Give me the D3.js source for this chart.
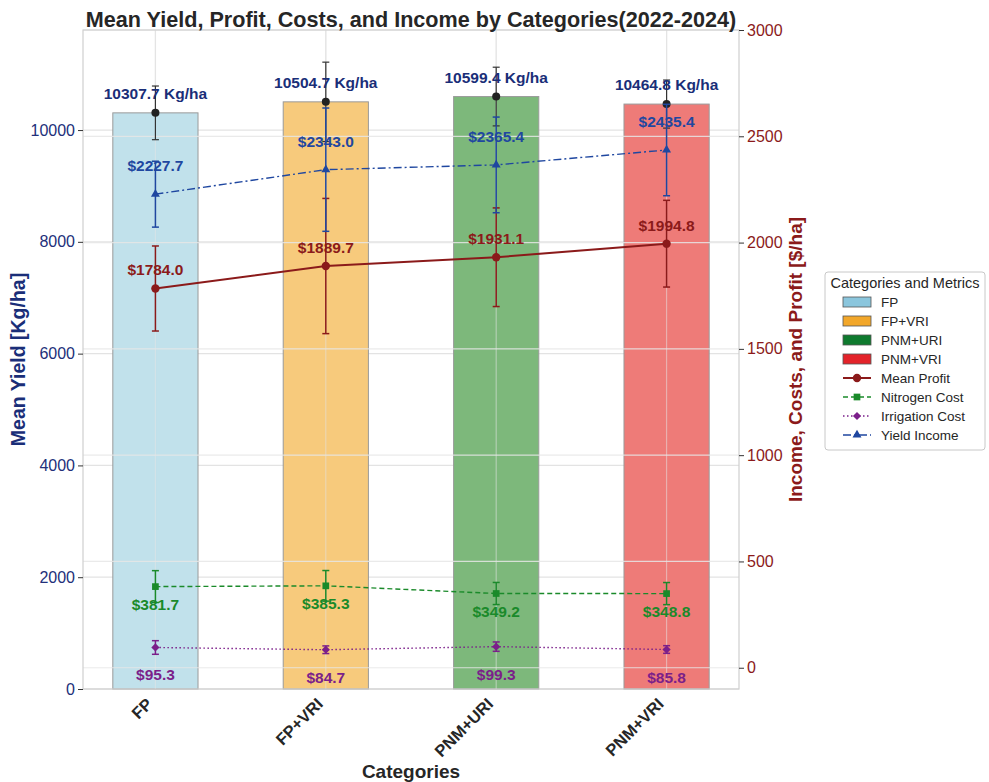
<!DOCTYPE html>
<html>
<head>
<meta charset="utf-8">
<script src="https://cdn.jsdelivr.net/npm/d3@7"></script>
<style>
  body { margin: 0; background: #fff; }
  text { font-family: "Liberation Sans", Arial, sans-serif; }
</style>
</head>
<body>
<svg id="chart"></svg>
<script>
// Dati
const categories    = ["FP", "FP+VRI", "PNM+URI", "PNM+VRI"];
const yieldMean     = [10307.7, 10504.7, 10599.4, 10464.8];
const yieldErr      = [480, 710, 525, 430];
const profit        = [1784.0, 1889.7, 1931.1, 1994.8];
const profitErr     = [200, 318, 232, 204];
const nitrogen      = [381.7, 385.3, 349.2, 348.8];
const nitrogenErr   = [75, 72, 52, 52];
const irrigation    = [95.3, 84.7, 99.3, 85.8];
const irrigationErr = [32, 18, 22, 18];
const income        = [2227.7, 2343.0, 2365.4, 2435.4];
const incomeErr     = [155, 290, 225, 215];
const leftTicks     = [0, 2000, 4000, 6000, 8000, 10000];
const rightTicks    = [0, 500, 1000, 1500, 2000, 2500, 3000];

const width = 989, height = 782;
const margin = { top: 30, right: 250, bottom: 93, left: 83 };
const x0 = margin.left, x1 = width - margin.right, y0 = margin.top, y1 = height - margin.bottom;

const barFill   = ["#c1e1eb", "#f7ca7c", "#7db87b", "#ee7b78"];
const legFill   = ["#8bc6dd", "#f2a72a", "#0e7a2e", "#e3232a"];
const cProfit = "#8b1a1a", cNitro = "#1a8a2a", cIrr = "#7b1f8a", cInc = "#1f47a0";
const cYieldTxt = "#1a2e78";

const svg = d3.select("#chart").attr("width", width).attr("height", height);

const x = d3.scaleLinear().domain([-0.425, 3.425]).range([x0, x1]);
const yL = d3.scaleLinear().domain([0, 11790]).range([y1, y0]);
const yR = d3.scaleLinear().domain([-100, 3000]).range([y1, y0]);
const idx = categories.map((d, i) => i);

// griglia asse sinistro
const gridL = svg.append("g");
gridL.selectAll("line.h").data(leftTicks).enter().append("line")
  .attr("x1", x0).attr("x2", x1).attr("y1", d => yL(d)).attr("y2", d => yL(d))
  .attr("stroke", "#e3e3e3").attr("stroke-width", 1.2);
gridL.selectAll("line.v").data(idx).enter().append("line")
  .attr("x1", d => x(d)).attr("x2", d => x(d)).attr("y1", y0).attr("y2", y1)
  .attr("stroke", "#e3e3e3").attr("stroke-width", 1.2);

// barre
svg.selectAll("rect.bar").data(idx).enter().append("rect")
  .attr("x", d => x(d - 0.25)).attr("width", x(0.25) - x(-0.25))
  .attr("y", d => yL(yieldMean[d])).attr("height", d => y1 - yL(yieldMean[d]))
  .attr("fill", d => barFill[d]).attr("stroke", "#9a9a9a").attr("stroke-width", 1);

// griglia asse destro (sopra le barre)
const gridR = svg.append("g");
gridR.selectAll("line.h").data(rightTicks).enter().append("line")
  .attr("x1", x0).attr("x2", x1).attr("y1", d => yR(d)).attr("y2", d => yR(d))
  .attr("stroke", "#e6e6e6").attr("stroke-opacity", 0.85).attr("stroke-width", 1.2);
gridR.selectAll("line.v").data(idx).enter().append("line")
  .attr("x1", d => x(d)).attr("x2", d => x(d)).attr("y1", y0).attr("y2", y1)
  .attr("stroke", "#e6e6e6").attr("stroke-opacity", 0.5).attr("stroke-width", 1.2);

// bordo
svg.append("rect").attr("x", x0).attr("y", y0).attr("width", x1 - x0).attr("height", y1 - y0)
  .attr("fill", "none").attr("stroke", "#cfcfcf").attr("stroke-width", 1.2);

// barre d'errore
function errorBars(vals, errs, scale, color, w) {
  const g = svg.append("g").attr("stroke", color).attr("stroke-width", w);
  idx.forEach(i => {
    const cx = x(i), top = scale(vals[i] + errs[i]), bot = scale(vals[i] - errs[i]);
    g.append("line").attr("x1", cx).attr("x2", cx).attr("y1", top).attr("y2", bot);
    g.append("line").attr("x1", cx - 3.5).attr("x2", cx + 3.5).attr("y1", top).attr("y2", top);
    g.append("line").attr("x1", cx - 3.5).attr("x2", cx + 3.5).attr("y1", bot).attr("y2", bot);
  });
}

errorBars(yieldMean, yieldErr, yL, "#333", 1.2);
svg.selectAll("circle.ydot").data(idx).enter().append("circle")
  .attr("cx", d => x(d)).attr("cy", d => yL(yieldMean[d])).attr("r", 4).attr("fill", "#222");

// etichette resa
svg.selectAll("text.ylab").data(idx).enter().append("text")
  .attr("x", d => x(d)).attr("y", d => yL(yieldMean[d]) - 14)
  .attr("text-anchor", "middle").attr("font-size", "15.5px").attr("font-weight", "bold")
  .attr("fill", cYieldTxt).text(d => yieldMean[d].toFixed(1) + " Kg/ha");

// marcatori (il rombo è un quadrato ruotato, come in matplotlib)
const markers = {
  circle: d3.symbol().type(d3.symbolCircle).size(55),
  square: d3.symbol().type(d3.symbolSquare).size(45),
  diamond: d3.symbol().type(d3.symbolSquare).size(34),
  triangle: d3.symbol().type(d3.symbolTriangle).size(35)
};
const markerRot = { circle: 0, square: 0, diamond: 45, triangle: 0 };

const series = [
  { vals: profit, errs: profitErr, color: cProfit, dash: null, w: 2, m: "circle", dy: -13 },
  { vals: nitrogen, errs: nitrogenErr, color: cNitro, dash: "5,3", w: 1.4, m: "square", dy: 23 },
  { vals: irrigation, errs: irrigationErr, color: cIrr, dash: "1.5,2.5", w: 1.4, m: "diamond", dy: 33 },
  { vals: income, errs: incomeErr, color: cInc, dash: "8,3,2,3", w: 1.4, m: "triangle", dy: -23 }
];

const line = d3.line().x(d => x(d.i)).y(d => yR(d.v));

series.forEach(s => {
  errorBars(s.vals, s.errs, yR, s.color, 1.5);
  svg.append("path").datum(s.vals.map((v, i) => ({ i, v })))
    .attr("d", line).attr("fill", "none").attr("stroke", s.color)
    .attr("stroke-width", s.w).attr("stroke-dasharray", s.dash);
  svg.selectAll(null).data(idx).enter().append("path")
    .attr("d", markers[s.m]).attr("fill", s.color)
    .attr("transform", d => `translate(${x(d)},${yR(s.vals[d])}) rotate(${markerRot[s.m]})`);
  svg.selectAll(null).data(idx).enter().append("text")
    .attr("x", d => x(d)).attr("y", d => yR(s.vals[d]) + s.dy)
    .attr("text-anchor", "middle").attr("font-size", "15.5px").attr("font-weight", "bold")
    .attr("fill", s.color).text(d => "$" + s.vals[d].toFixed(1));
});

// assi
const axL = svg.append("g").attr("transform", `translate(${x0},0)`)
  .call(d3.axisLeft(yL).tickValues(leftTicks).tickFormat(d3.format("d")).tickSize(5).tickPadding(3));
axL.select(".domain").remove();
axL.selectAll("line").attr("stroke", "#333");
axL.selectAll("text").attr("font-size", "16px").attr("fill", "#22307a").attr("font-family", "Liberation Sans, Arial, sans-serif");

const axR = svg.append("g").attr("transform", `translate(${x1},0)`)
  .call(d3.axisRight(yR).tickValues(rightTicks).tickFormat(d3.format("d")).tickSize(5).tickPadding(3));
axR.select(".domain").remove();
axR.selectAll("line").attr("stroke", "#333");
axR.selectAll("text").attr("font-size", "16px").attr("fill", cProfit).attr("font-family", "Liberation Sans, Arial, sans-serif");

// etichette categorie ruotate
svg.selectAll("text.cat").data(idx).enter().append("text")
  .attr("transform", d => `translate(${x(d) - 6},${y1 + 12}) rotate(-45)`)
  .attr("text-anchor", "end").attr("dy", "0.35em")
  .attr("font-size", "16.5px").attr("font-weight", "bold").attr("fill", "#262626")
  .text(d => categories[d]);

// titoli
svg.append("text").attr("x", (x0 + x1) / 2).attr("y", 27).attr("text-anchor", "middle")
  .attr("font-size", "21.6px").attr("font-weight", "bold").attr("fill", "#262626")
  .text("Mean Yield, Profit, Costs, and Income by Categories(2022-2024)");
svg.append("text").attr("x", (x0 + x1) / 2).attr("y", 778).attr("text-anchor", "middle")
  .attr("font-size", "19px").attr("font-weight", "bold").attr("fill", "#262626").text("Categories");
svg.append("text").attr("transform", `translate(25,${(y0 + y1) / 2}) rotate(-90)`)
  .attr("text-anchor", "middle").attr("font-size", "19.5px").attr("font-weight", "bold")
  .attr("fill", cYieldTxt).text("Mean Yield [Kg/ha]");
svg.append("text").attr("transform", `translate(802,${(y0 + y1) / 2}) rotate(-90)`)
  .attr("text-anchor", "middle").attr("font-size", "19px").attr("font-weight", "bold")
  .attr("fill", cProfit).text("Income, Costs, and Profit [$/ha]");

// legenda
const leg = svg.append("g").attr("transform", "translate(825,272)");
leg.append("rect").attr("width", 160).attr("height", 178).attr("rx", 3)
  .attr("fill", "#fff").attr("stroke", "#c8c8c8");
leg.append("text").attr("x", 80).attr("y", 16).attr("text-anchor", "middle")
  .attr("font-size", "14.5px").attr("fill", "#262626").text("Categories and Metrics");
categories.forEach((c, i) => {
  const yy = 30 + i * 19;
  leg.append("rect").attr("x", 18).attr("y", yy - 5).attr("width", 28).attr("height", 10)
    .attr("fill", legFill[i]).attr("stroke", "#555").attr("stroke-width", 0.8);
  leg.append("text").attr("x", 56).attr("y", yy + 5).attr("font-size", "13.5px")
    .attr("fill", "#262626").text(c);
});
const legNames = ["Mean Profit", "Nitrogen Cost", "Irrigation Cost", "Yield Income"];
series.forEach((s, i) => {
  const yy = 30 + (i + 4) * 19;
  leg.append("line").attr("x1", 18).attr("x2", 46).attr("y1", yy).attr("y2", yy)
    .attr("stroke", s.color).attr("stroke-width", s.w).attr("stroke-dasharray", s.dash);
  leg.append("path").attr("d", markers[s.m]).attr("fill", s.color)
    .attr("transform", `translate(32,${yy}) rotate(${markerRot[s.m]})`);
  leg.append("text").attr("x", 56).attr("y", yy + 5).attr("font-size", "13.5px")
    .attr("fill", "#262626").text(legNames[i]);
});
</script>
</body>
</html>
